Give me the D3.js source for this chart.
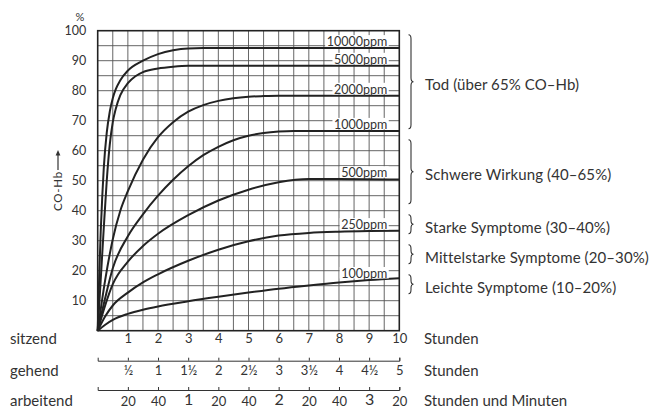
<!DOCTYPE html>
<html>
<head>
<meta charset="utf-8">
<script src="https://cdn.jsdelivr.net/npm/d3@7"></script>
<style>
  body { margin: 0; background: #fff; }
  svg { display: block; }
  text { font-family: Lato, "Open Sans", sans-serif; fill: #333; }
</style>
</head>
<body>
<svg id="chart" width="654" height="410"></svg>
<script>
// CO-Hb saturation (%) over exposure time (hours, seated person) per CO concentration
const hours10000 = [0, 0.05, 0.1, 0.15, 0.2, 0.3, 0.4, 0.5, 0.6, 0.75, 1, 1.5, 2, 2.5, 3, 3.5, 10];
const coHb10000  = [0, 18, 33, 44.5, 54, 66, 73, 77.5, 80.5, 83.5, 86.7, 90, 92.2, 93.5, 94.1, 94.2, 94.2];

const hours5000 = [0, 0.1, 0.2, 0.3, 0.4, 0.5, 0.6, 0.75, 1, 1.25, 1.5, 2, 2.5, 3, 10];
const coHb5000  = [0, 17, 34, 50, 62, 69.5, 74, 78.5, 82.5, 84.8, 86.2, 87.4, 88, 88.3, 88.3];

const hours2000 = [0, 0.25, 0.5, 0.75, 1, 1.5, 2, 2.5, 3, 3.5, 4, 4.5, 5, 5.5, 6, 10];
const coHb2000  = [0, 17, 30.5, 40, 46.5, 57, 64.5, 69.5, 73, 75.2, 76.6, 77.5, 78, 78.2, 78.3, 78.3];

const hours1000 = [0, 0.25, 0.5, 1, 1.5, 2, 2.5, 3, 3.5, 4, 4.5, 5, 5.5, 6, 6.5, 10];
const coHb1000  = [0, 11, 20.8, 31.5, 38.8, 45, 50.3, 54.8, 58.5, 61.3, 63.5, 65, 65.9, 66.4, 66.6, 66.6];

const hours500 = [0, 0.25, 0.5, 1, 1.5, 2, 3, 4, 5, 6, 7, 8, 10];
const coHb500  = [0, 8.5, 15.5, 23, 28.2, 32.3, 38.5, 43.4, 47, 49.5, 50.6, 50.6, 50.4];

const hours250 = [0, 0.25, 0.5, 1, 1.5, 2, 3, 4, 5, 6, 7, 8, 9, 10];
const coHb250  = [0, 4.8, 8.4, 12.7, 16.1, 18.8, 23.3, 27, 29.8, 31.7, 32.6, 33, 33.2, 33.3];

const hours100 = [0, 0.25, 0.5, 1, 1.5, 2, 3, 4, 5, 6, 7, 8, 9, 10];
const coHb100  = [0, 2, 3.6, 5.6, 7, 8.1, 9.8, 11.3, 12.7, 14, 15.1, 16.1, 16.9, 17.5];

const curveLabels = ["10000ppm", "5000ppm", "2000ppm", "1000ppm", "500ppm", "250ppm", "100ppm"];

// Tick labels of the three time scales
const yTicks = [10, 20, 30, 40, 50, 60, 70, 80, 90, 100];
const sitzendTicks = ["1", "2", "3", "4", "5", "6", "7", "8", "9", "10"];
const gehendTicks = ["½", "1", "1½", "2", "2½", "3", "3½", "4", "4½", "5"];
const arbeitendTicks = ["20", "40", "1", "20", "40", "2", "20", "40", "3", "20"];

// Effect bands on the right
const bandNames = ["Tod (über 65% CO–Hb)", "Schwere Wirkung (40–65%)", "Starke Symptome (30–40%)",
                   "Mittelstarke Symptome (20–30%)", "Leichte Symptome (10–20%)"];
const bandLow  = [65, 40, 30, 20, 10];
const bandHigh = [100, 65, 40, 30, 20];

const series = [
  [hours10000, coHb10000], [hours5000, coHb5000], [hours2000, coHb2000], [hours1000, coHb1000],
  [hours500, coHb500], [hours250, coHb250], [hours100, coHb100]
].map(([h, v], i) => ({ label: curveLabels[i], points: h.map((t, j) => [t, v[j]]) }));

const svg = d3.select("#chart");
const plotLeft = 97.7, plotRight = 399.3, plotTop = 30.7, plotBottom = 330.7;
const x = d3.scaleLinear().domain([0, 10]).range([plotLeft, plotRight]);
const y = d3.scaleLinear().domain([0, 100]).range([plotBottom, plotTop]);

// Grid: every half hour and every 5 %
const grid = svg.append("g").attr("stroke", "#555").attr("stroke-width", 0.9);
grid.selectAll("line.v").data(d3.range(0.5, 10, 0.5)).join("line").attr("class", "v")
  .attr("x1", d => x(d)).attr("x2", d => x(d)).attr("y1", plotTop).attr("y2", plotBottom);
grid.selectAll("line.h").data(d3.range(5, 100, 5)).join("line").attr("class", "h")
  .attr("y1", d => y(d)).attr("y2", d => y(d)).attr("x1", plotLeft).attr("x2", plotRight);

svg.append("rect").attr("x", plotLeft).attr("y", plotTop)
  .attr("width", plotRight - plotLeft).attr("height", plotBottom - plotTop)
  .attr("fill", "none").attr("stroke", "#222").attr("stroke-width", 1.6);

const line = d3.line().x(d => x(d[0])).y(d => y(d[1])).curve(d3.curveMonotoneX);
const interp = (pts, t) => {
  for (let i = 1; i < pts.length; i++) {
    if (t <= pts[i][0]) {
      const [t0, v0] = pts[i - 1], [t1, v1] = pts[i];
      return v0 + (v1 - v0) * (t - t0) / (t1 - t0);
    }
  }
  return pts[pts.length - 1][1];
};

// Curve labels sit just above each curve near its right end, on a white patch
const labelG = svg.append("g");
const labelNodes = labelG.selectAll("text").data(series).join("text")
  .attr("x", x(9.6))
  .attr("y", d => y(interp(d.points, 9)) - 2)
  .attr("text-anchor", "end")
  .attr("font-size", 12.5)
  .text(d => d.label);
labelNodes.each(function () {
  const b = this.getBBox();
  labelG.insert("rect", "text")
    .attr("x", b.x - 1.5).attr("y", b.y + 1)
    .attr("width", b.width + 3).attr("height", b.height - 3.5)
    .attr("fill", "#fff");
});

svg.append("g").selectAll("path").data(series).join("path")
  .attr("d", d => line(d.points))
  .attr("fill", "none").attr("stroke", "#222").attr("stroke-width", 2)
  .attr("stroke-linejoin", "round");

labelG.raise();

// Y axis
const yAxis = svg.append("g").attr("transform", `translate(${plotLeft},0)`)
  .call(d3.axisLeft(y).tickValues(yTicks).tickSize(0).tickPadding(11.5));
yAxis.select(".domain").remove();
yAxis.selectAll("text").attr("font-size", 12.5).attr("font-family", "Lato").attr("fill", "#333");

svg.append("text").attr("x", 80).attr("y", 21).attr("text-anchor", "middle")
  .attr("font-size", 11).text("%");

// Vertical "CO-Hb" caption with upward arrow
const cap = svg.append("g").attr("transform", "translate(58,191) rotate(-90)");
cap.append("text").attr("text-anchor", "middle").attr("dy", "0.35em").attr("font-size", 11.5)
  .attr("letter-spacing", 0.8).text("CO-Hb");
cap.append("line").attr("x1", 21).attr("x2", 38).attr("y1", 0).attr("y2", 0)
  .attr("stroke", "#333").attr("stroke-width", 1.2);
cap.append("path").attr("d", "M41,0 L35.5,-2.4 L35.5,2.4 Z").attr("fill", "#333");

// Time scales below the plot
const hourTicks = d3.range(1, 11);
const sitz = svg.append("g").attr("transform", `translate(0,${plotBottom})`)
  .call(d3.axisBottom(x).tickValues(hourTicks).tickSize(0).tickPadding(3)
    .tickFormat((d, i) => sitzendTicks[i]));
sitz.select(".domain").remove();

const geh = svg.append("g").attr("transform", "translate(0,360.7)")
  .call(d3.axisBottom(x).tickValues(hourTicks).tickSizeInner(-3).tickSizeOuter(-3).tickPadding(5.5)
    .tickFormat((d, i) => gehendTicks[i]));

const arb = svg.append("g").attr("transform", "translate(0,390)")
  .call(d3.axisBottom(x).tickValues(hourTicks).tickSizeInner(-3).tickSizeOuter(-3).tickPadding(6.5)
    .tickFormat((d, i) => arbeitendTicks[i]));

[sitz, geh, arb].forEach(g => {
  g.selectAll(".domain, line").attr("stroke", "#333").attr("stroke-width", 1);
  g.selectAll("text").attr("font-family", "Lato").attr("font-size", 13).attr("fill", "#333");
});
// Whole hours on the working scale are printed larger than the minutes
arb.selectAll("text").filter((d, i) => arbeitendTicks[i].length === 1)
  .attr("font-size", 16).attr("dy", "0.52em");

const rowNames = ["sitzend", "gehend", "arbeitend"];
const rowUnits = ["Stunden", "Stunden", "Stunden und Minuten"];
const rowBase = [343.5, 375.5, 406];
svg.append("g").selectAll("text").data(rowNames).join("text")
  .attr("x", 10).attr("y", (d, i) => rowBase[i]).attr("font-size", 15).text(d => d);
svg.append("g").selectAll("text").data(rowUnits).join("text")
  .attr("x", 424).attr("y", (d, i) => rowBase[i]).attr("font-size", 15).text(d => d);

// Braces and effect descriptions
const braceX = 411;
function brace(x0, y0, y1, w) {
  const m = (y0 + y1) / 2, r = Math.min(4, (y1 - y0) / 4);
  return `M${x0 - w},${y0} Q${x0},${y0} ${x0},${y0 + r} L${x0},${m - r} Q${x0},${m} ${x0 + w},${m}` +
         ` Q${x0},${m} ${x0},${m + r} L${x0},${y1 - r} Q${x0},${y1} ${x0 - w},${y1}`;
}
const bands = bandNames.map((n, i) => ({ name: n, lo: bandLow[i], hi: bandHigh[i] }));
svg.append("g").selectAll("path").data(bands).join("path")
  .attr("d", d => brace(braceX, y(d.hi) + 4, y(d.lo) - 7, 2.5))
  .attr("fill", "none").attr("stroke", "#333").attr("stroke-width", 1.1);
svg.append("g").selectAll("text").data(bands).join("text")
  .attr("x", 425).attr("y", d => (y(d.hi) + y(d.lo)) / 2 + 2).attr("dy", "0.35em")
  .attr("font-size", 15).attr("letter-spacing", 0.1).text(d => d.name);
</script>
</body>
</html>
